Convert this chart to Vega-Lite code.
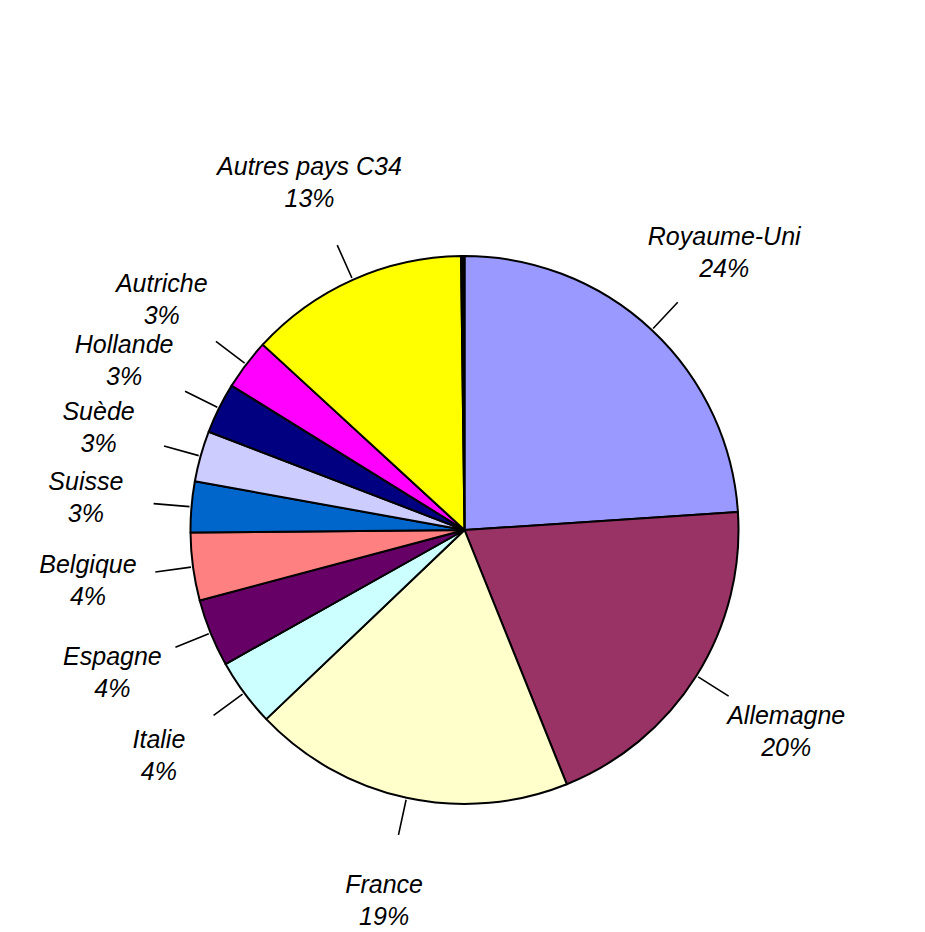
{
  "$schema": "https://vega.github.io/schema/vega-lite/v6.json",
  "width": 921,
  "height": 804,
  "autosize": {"type": "none"},
  "padding": {"top": 128, "left": 4, "right": 0, "bottom": 0},
  "background": "white",
  "view": {"stroke": null},
  "data": {
    "values": [
      {"k": 1, "country": "Royaume-Uni", "share": 0.24},
      {"k": 2, "country": "Allemagne", "share": 0.20},
      {"k": 3, "country": "France", "share": 0.19},
      {"k": 4, "country": "Italie", "share": 0.04},
      {"k": 5, "country": "Espagne", "share": 0.04},
      {"k": 6, "country": "Belgique", "share": 0.04},
      {"k": 7, "country": "Suisse", "share": 0.03},
      {"k": 8, "country": "Suède", "share": 0.03},
      {"k": 9, "country": "Hollande", "share": 0.03},
      {"k": 10, "country": "Autriche", "share": 0.03},
      {"k": 11, "country": "Autres pays C34", "share": 0.13},
      {"k": 12, "country": "Divers", "share": 0.002}
    ]
  },
  "transform": [
    {"window": [{"op": "sum", "field": "share", "as": "cum"}], "sort": [{"field": "k"}], "frame": [null, 0]},
    {"calculate": "datum.cum - datum.share / 2", "as": "mid"}
  ],
  "layer": [
    {
      "mark": {"type": "arc", "outerRadius": 274, "stroke": "black", "strokeWidth": 2, "strokeJoin": "round"},
      "encoding": {
        "theta": {"field": "share", "type": "quantitative", "stack": true},
        "order": {"field": "k", "type": "quantitative"},
        "color": {
          "field": "country",
          "type": "nominal",
          "legend": null,
          "scale": {
            "domain": ["Royaume-Uni", "Allemagne", "France", "Italie", "Espagne", "Belgique", "Suisse", "Suède", "Hollande", "Autriche", "Autres pays C34", "Divers"],
            "range": ["#9999FF", "#993366", "#FFFFCC", "#CCFFFF", "#660066", "#FF8080", "#0066CC", "#CCCCFF", "#000080", "#FF00FF", "#FFFF00", "#000000"]
          }
        }
      }
    },
    {
      "transform": [{"filter": "datum.k <= 11"}],
      "mark": {"type": "arc", "innerRadius": 276, "outerRadius": 312, "stroke": "black", "strokeWidth": 1.6, "fill": null},
      "encoding": {
        "theta": {"field": "mid", "type": "quantitative"},
        "theta2": {"field": "mid"}
      }
    },
    {
      "transform": [{"filter": "datum.k <= 11"}],
      "mark": {"type": "text", "radius": 380, "dy": -16, "font": "Liberation Sans", "fontStyle": "italic", "fontSize": 25, "align": "center", "baseline": "middle", "color": "black"},
      "encoding": {
        "theta": {"field": "mid", "type": "quantitative"},
        "text": {"field": "country"}
      }
    },
    {
      "transform": [{"filter": "datum.k <= 11"}],
      "mark": {"type": "text", "radius": 380, "dy": 16, "font": "Liberation Sans", "fontStyle": "italic", "fontSize": 25, "align": "center", "baseline": "middle", "color": "black"},
      "encoding": {
        "theta": {"field": "mid", "type": "quantitative"},
        "text": {"field": "share", "format": ".0%"}
      }
    }
  ]
}
